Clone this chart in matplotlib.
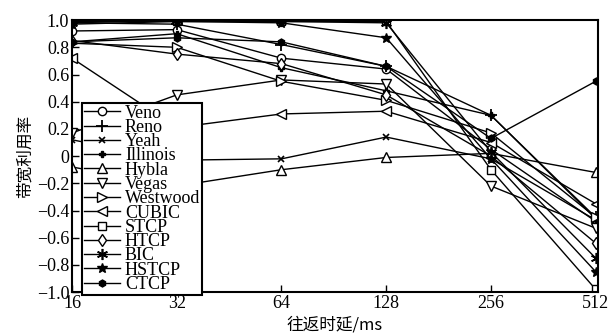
import matplotlib
matplotlib.use("Agg")
import matplotlib.pyplot as plt
import numpy as np

rtt_labels = ["16", "32", "64", "128", "256", "512"]
series_names = ["Veno", "Reno", "Yeah", "Illinois", "Hybla", "Vegas", "Westwood",
                "CUBIC", "STCP", "HTCP", "BIC", "HSTCP", "CTCP"]

veno     = [0.92, 0.93, 0.72, 0.64, 0.05, -0.48]
reno     = [0.98, 0.97, 0.82, 0.66, 0.30, -0.45]
yeah     = [0.12, -0.03, -0.02, 0.14, -0.02, -0.47]
illinois = [0.84, 0.90, 0.65, 0.48, 0.30, -0.46]
hybla    = [-0.08, -0.22, -0.10, -0.01, 0.02, -0.12]
vegas    = [0.17, 0.45, 0.56, 0.53, -0.22, -0.53]
westwood = [0.83, 0.80, 0.55, 0.41, 0.17, -0.45]
cubic    = [0.72, 0.21, 0.31, 0.33, 0.10, -0.35]
stcp     = [0.99, 0.99, 0.99, 0.99, -0.10, -0.98]
htcp     = [0.85, 0.75, 0.68, 0.45, 0.00, -0.64]
bic      = [0.98, 1.00, 0.99, 0.98, 0.03, -0.75]
hstcp    = [0.97, 0.99, 0.98, 0.87, -0.02, -0.85]
ctcp     = [0.84, 0.87, 0.84, 0.66, 0.13, 0.55]

all_values = [veno, reno, yeah, illinois, hybla, vegas, westwood,
              cubic, stcp, htcp, bic, hstcp, ctcp]
yticks = [1.0, 0.8, 0.6, 0.4, 0.2, 0, -0.2, -0.4, -0.6, -0.8, -1.0]
ytick_labels = ["1.0", "0.8", "0.6", "0.4", "0.2", "0", "\u22120.2", "\u22120.4",
                "\u22120.6", "\u22120.8", "\u22121.0"]

styles = [
    dict(marker="o", mfc="white", ms=6),
    dict(marker="+", mfc="black", ms=8, mew=1.3),
    dict(marker="x", mfc="black", ms=4, mew=1.2),
    dict(marker="P", mfc="black", ms=5),
    dict(marker="^", mfc="white", ms=7),
    dict(marker="v", mfc="white", ms=7),
    dict(marker=">", mfc="white", ms=7),
    dict(marker="<", mfc="white", ms=7),
    dict(marker="s", mfc="white", ms=6),
    dict(marker="d", mfc="white", ms=6),
    dict(marker=(6, 2, 0), mfc="black", ms=8, mew=1.2),
    dict(marker="*", mfc="black", ms=7),
    dict(marker="h", mfc="black", ms=5),
]

serif = ["Liberation Serif", "DejaVu Serif"]
cjk = ["Noto Sans CJK SC", "DejaVu Sans"]

fig = plt.figure(figsize=(6.1, 3.35), dpi=100)
ax = fig.add_axes([0.118, 0.128, 0.862, 0.812])
x = np.arange(len(rtt_labels))
for name, vals, st in zip(series_names, all_values, styles):
    ax.plot(x, vals, color="black", lw=1.0, mec="black", label=name, **st)

ax.set_xlim(0, 5.02)
ax.set_ylim(-1.0, 1.0)
ax.set_xticks(x)
ax.set_xticklabels(rtt_labels, family=serif, fontsize=13)
ax.set_yticks(yticks)
ax.set_yticklabels(ytick_labels, family=serif, fontsize=13)
ax.tick_params(direction="in", length=5, width=1.0, top=False, right=False, pad=2)
for s in ax.spines.values():
    s.set_linewidth(1.5)

ax.set_xlabel("往返时延/ms", family=["Noto Sans CJK SC", "Liberation Serif"], fontsize=12, labelpad=3)
ax.set_ylabel("带宽利用率", family=cjk, fontsize=12, labelpad=2)

leg = ax.legend(loc="lower left", bbox_to_anchor=(0.02, -0.01), prop={"family": serif, "size": 13},
                frameon=True, fancybox=False, edgecolor="black", framealpha=1,
                labelspacing=-0.15, handlelength=2.0, handletextpad=0.25,
                borderpad=0.1, borderaxespad=0)
leg.get_frame().set_linewidth(1.5)

fig.savefig("out.png", dpi=100)
